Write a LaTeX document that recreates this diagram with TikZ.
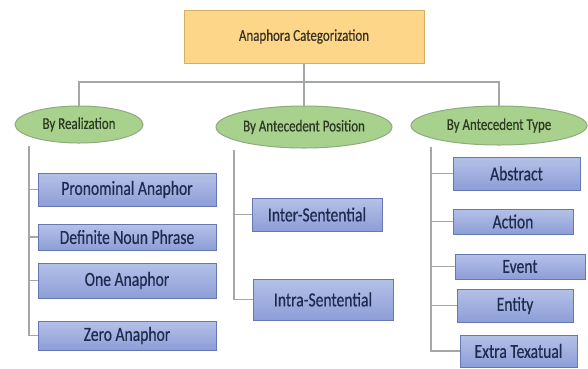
\documentclass[tikz,border=0pt]{standalone}
\usepackage{fontspec}
\setmainfont{Carlito}
\newfontfamily\cond[FakeStretch=0.78,FakeBold=0.4]{Carlito}
\usetikzlibrary{shapes.geometric}
\definecolor{topfill}{HTML}{FDD68A}
\definecolor{topdraw}{HTML}{D8AE63}
\definecolor{toptext}{HTML}{3A3222}
\definecolor{ellfill}{HTML}{A9D18E}
\definecolor{elldraw}{HTML}{8FAA7C}
\definecolor{elltext}{HTML}{2B3A22}
\definecolor{leaftop}{HTML}{B4C1E8}
\definecolor{leafbot}{HTML}{8D9ED7}
\definecolor{leafdraw}{HTML}{6677B2}
\definecolor{leaftext}{HTML}{1E2B4E}
\definecolor{conncol}{HTML}{A4A8A4}
\tikzset{
  topbox/.style={draw=topdraw, fill=topfill, line width=1pt, inner sep=0pt,
    font=\cond\fontsize{16.6}{18}\selectfont, text=toptext},
  catell/.style={ellipse, draw=elldraw, fill=ellfill, line width=1pt, inner sep=0pt,
    font=\cond\fontsize{16.6}{18}\selectfont, text=elltext},
  leaf/.style={draw=leafdraw, top color=leaftop, bottom color=leafbot, line width=1pt,
    inner sep=0pt, font=\cond\fontsize{20}{22}\selectfont, text=leaftext},
  conn/.style={draw=conncol, line width=1.3pt}
}
\begin{document}
\begin{tikzpicture}[x=1pt,y=-1pt]
\useasboundingbox (0,0) rectangle (588,368);
\fill[white] (0,0) rectangle (588,368);

% top
\node[topbox, minimum width=240pt, minimum height=53pt] (top) at (304,36.5) {Anaphora Categorization};

% categories
\node[catell, minimum width=128pt, minimum height=37pt] (e1) at (79,124.5) {By Realization};
\node[catell, minimum width=176pt, minimum height=42pt] (e2) at (304,127) {By Antecedent Position};
\node[catell, minimum width=176pt, minimum height=39pt] (e3) at (499,125.5) {By Antecedent Type};

% left leaves
\node[leaf, minimum width=178pt, minimum height=33pt] (b1) at (127,189.5) {Pronominal Anaphor};
\node[leaf, minimum width=178pt, minimum height=26pt] (b2) at (127,237) {Definite Noun Phrase};
\node[leaf, minimum width=178pt, minimum height=35pt] (b3) at (127,280.5) {One Anaphor};
\node[leaf, minimum width=178pt, minimum height=29pt] (b4) at (127,335.5) {Zero Anaphor};

% middle leaves
\node[leaf, minimum width=130pt, minimum height=33pt] (m1) at (317,214.5) {Inter-Sentential};
\node[leaf, minimum width=140pt, minimum height=41pt] (m2) at (323,299.5) {Intra-Sentential};

% right leaves
\node[leaf, minimum width=127pt, minimum height=33pt] (r1) at (516.5,173.5) {Abstract};
\node[leaf, minimum width=120pt, minimum height=25pt] (r2) at (513,221.5) {Action};
\node[leaf, minimum width=130pt, minimum height=25pt] (r3) at (520,266.5) {Event};
\node[leaf, minimum width=116pt, minimum height=33pt] (r4) at (515,305.5) {Entity};
\node[leaf, minimum width=117pt, minimum height=32pt] (r5) at (518.5,351) {Extra Texatual};

% bus connectors
\coordinate (bus) at (304,82);
\draw[conn] (top.south) -- (bus);
\draw[conn] (bus) -| (e1.north);
\draw[conn] (bus) -| (e3.north);
\draw[conn] (bus) -- (e2.north);

% left column
\coordinate (lc) at (29,146);
\draw[conn] (lc) |- (b4.west);
\draw[conn] (lc |- b1.west) -- (b1.west);
\draw[conn] (lc |- b2.west) -- (b2.west);
\draw[conn] (lc |- b3.west) -- (b3.west);

% middle column
\coordinate (mc) at (234,150);
\draw[conn] (mc) |- (m2.west);
\draw[conn] (mc |- m1.west) -- (m1.west);

% right column
\coordinate (rc) at (431,147);
\draw[conn] (rc) |- (r5.west);
\draw[conn] (rc |- r1.west) -- (r1.west);
\draw[conn] (rc |- r2.west) -- (r2.west);
\draw[conn] (rc |- r3.west) -- (r3.west);
\draw[conn] (rc |- r4.west) -- (r4.west);
\end{tikzpicture}
\end{document}
